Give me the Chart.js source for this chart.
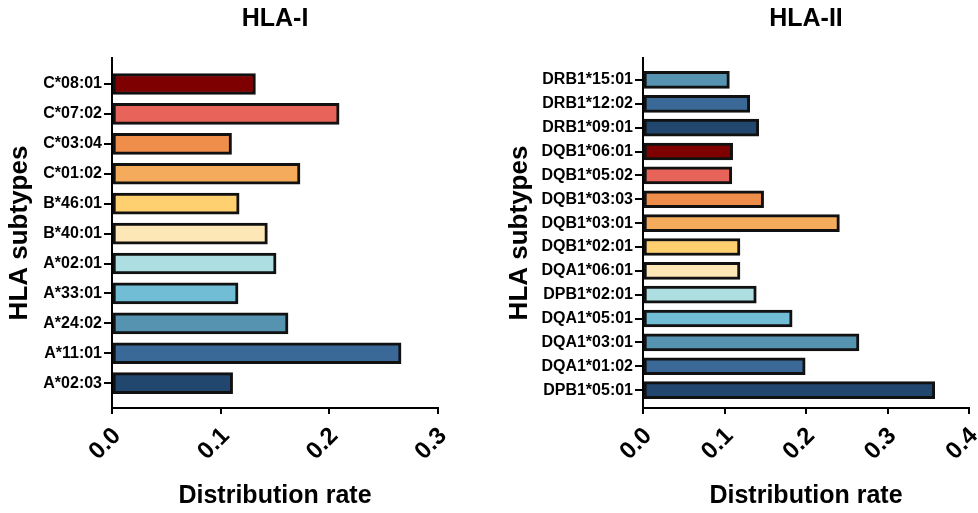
<!DOCTYPE html>
<html>
<head>
<meta charset="utf-8">
<script src="https://cdn.jsdelivr.net/npm/chart.js@4"></script>
<style>
  html, body { margin: 0; padding: 0; background: #fff; }
  .wrap { position: relative; width: 978px; height: 513px; }
  .panel { position: absolute; top: 0; width: 489px; height: 513px; }
</style>
</head>
<body>
<div class="wrap">
  <div class="panel" style="left:0"><canvas id="hla1"></canvas></div>
  <div class="panel" style="left:489px"><canvas id="hla2"></canvas></div>
</div>
<script>
// HLA-I, listed top to bottom
const hla1Labels = ['C*08:01', 'C*07:02', 'C*03:04', 'C*01:02', 'B*46:01', 'B*40:01',
  'A*02:01', 'A*33:01', 'A*24:02', 'A*11:01', 'A*02:03'];
const hla1Values = [0.132, 0.209, 0.110, 0.173, 0.117, 0.143, 0.151, 0.116, 0.162, 0.266, 0.111];
const hla1Ticks = [0, 0.1, 0.2, 0.3];

// HLA-II, listed top to bottom
const hla2Labels = ['DRB1*15:01', 'DRB1*12:02', 'DRB1*09:01', 'DQB1*06:01', 'DQB1*05:02',
  'DQB1*03:03', 'DQB1*03:01', 'DQB1*02:01', 'DQA1*06:01', 'DPB1*02:01', 'DQA1*05:01',
  'DQA1*03:01', 'DQA1*01:02', 'DPB1*05:01'];
const hla2Values = [0.106, 0.131, 0.142, 0.110, 0.109, 0.148, 0.241, 0.119, 0.119, 0.139,
  0.183, 0.265, 0.199, 0.358];
const hla2Ticks = [0, 0.1, 0.2, 0.3, 0.4];

// palettes (top to bottom)
const hla1Colors = ['#7f0000', '#e8645a', '#ef8d4b', '#f5ab5c', '#fed06f', '#fee7b6',
  '#acdee2', '#72bdd6', '#5593b0', '#3a6897', '#22476f'];
const hla2Colors = ['#5593b0', '#3a6897', '#22476f', '#7f0000', '#e8645a', '#ef8d4b',
  '#f5ab5c', '#fed06f', '#fee7b6', '#acdee2', '#72bdd6', '#5593b0', '#3a6897', '#22476f'];

const FONT = "'Liberation Sans', Arial, Helvetica, sans-serif";
Chart.defaults.font.family = FONT;
Chart.defaults.color = '#000';

function makeChart(id, cfg) {
  return new Chart(document.getElementById(id), {
    type: 'bar',
    data: {
      datasets: [{
        data: cfg.values.map((v, i) => ({ x: v, y: i })),
        backgroundColor: cfg.colors,
        borderColor: '#111',
        borderWidth: 3,
        borderSkipped: false,
        barThickness: cfg.barThickness
      }]
    },
    options: {
      indexAxis: 'y',
      responsive: true,
      maintainAspectRatio: false,
      animation: false,
      layout: { padding: { left: 0, right: cfg.padRight, top: 0, bottom: 0 } },
      plugins: {
        legend: { display: false },
        tooltip: { enabled: false },
        title: {
          display: true,
          text: cfg.title,
          fullSize: false,
          font: { size: 25, weight: 'bold' },
          color: '#000',
          padding: { top: 4, bottom: 24 }
        }
      },
      scales: {
        x: {
          type: 'linear',
          min: 0,
          max: cfg.ticks[cfg.ticks.length - 1],
          afterBuildTicks: s => { s.ticks = cfg.ticks.map(v => ({ value: v })); },
          afterFit: s => { s.height = 105; s.paddingLeft = 0; s.paddingRight = 0; },
          border: { color: '#000', width: 2 },
          grid: { drawOnChartArea: false, drawTicks: true, tickLength: 6, color: '#000', lineWidth: 2 },
          ticks: {
            minRotation: 45,
            maxRotation: 45,
            font: { size: 24, weight: 'bold' },
            padding: 8,
            labelOffset: 5,
            callback: v => v.toFixed(1)
          },
          title: {
            display: true,
            text: 'Distribution rate',
            font: { size: 25, weight: 'bold' },
            padding: { top: 0, bottom: 2 }
          }
        },
        y: {
          type: 'linear',
          reverse: true,
          offset: false,
          min: cfg.yMin,
          max: cfg.yMax,
          afterBuildTicks: s => { s.ticks = cfg.labels.map((_, i) => ({ value: i })); },
          afterFit: s => { s.width = cfg.axisWidth; },
          border: { color: '#000', width: 2 },
          grid: { offset: false, drawOnChartArea: false, drawTicks: true, tickLength: 8, color: '#000', lineWidth: 2 },
          ticks: {
            autoSkip: false,
            font: { size: 16, weight: 'bold' },
            padding: 2,
            callback: v => cfg.labels[v]
          },
          title: {
            display: true,
            text: 'HLA subtypes',
            font: { size: 26, weight: 'bold' },
            padding: { top: cfg.yTitlePad, bottom: 0 }
          }
        }
      }
    }
  });
}

makeChart('hla1', {
  title: 'HLA-I', labels: hla1Labels, values: hla1Values, colors: hla1Colors, ticks: hla1Ticks,
  yMin: -0.87, yMax: 10.83, axisWidth: 112, padRight: 51, barThickness: 21, yTitlePad: 4
});
makeChart('hla2', {
  title: 'HLA-II', labels: hla2Labels, values: hla2Values, colors: hla2Colors, ticks: hla2Ticks,
  yMin: -0.92, yMax: 13.75, axisWidth: 154, padRight: 9, barThickness: 17, yTitlePad: 15
});
</script>
</body>
</html>
